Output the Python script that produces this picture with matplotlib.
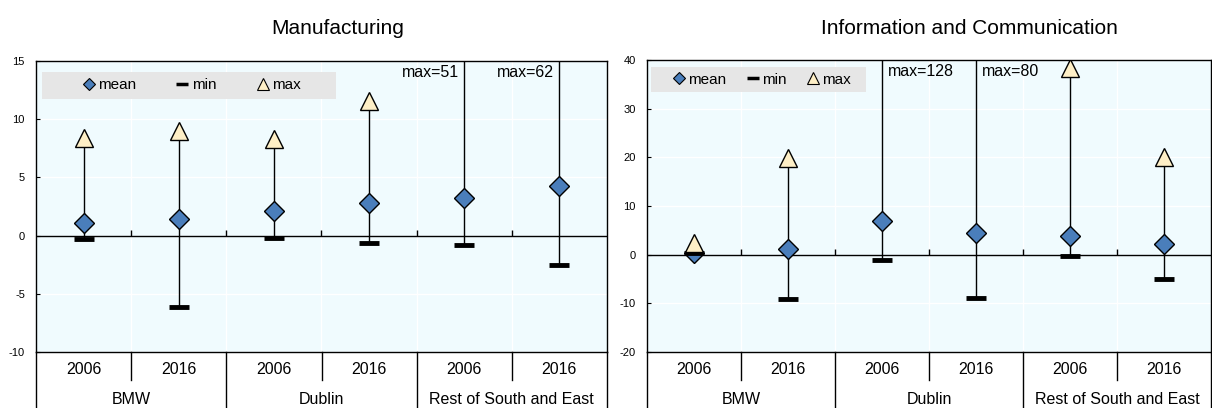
import matplotlib
matplotlib.use("Agg")
import matplotlib.pyplot as plt
from matplotlib.lines import Line2D
from matplotlib.patches import Rectangle
import numpy as np

plt.rcParams['font.family'] = ['Liberation Sans', 'DejaVu Sans']

regions = ["BMW", "Dublin", "Rest of South and East"]
years = ["2006", "2016"]

titles = ["Manufacturing", "Information and Communication"]

manu_mean = [1.1, 1.4, 2.1, 2.8, 3.2, 4.3]
manu_min = [-0.3, -6.1, -0.2, -0.6, -0.8, -2.5]
manu_max = [8.4, 9.0, 8.3, 11.6, 51, 62]

ict_mean = [0.3, 1.1, 7.0, 4.4, 3.9, 2.2]
ict_min = [0.4, -9.1, -1.1, -8.9, -0.3, -5.1]
ict_max = [2.5, 19.8, 128, 80, 38.4, 20.0]

y_limits = [(-10, 15), (-20, 40)]
y_ticks = [[-10, -5, 0, 5, 10, 15], [-20, -10, 0, 10, 20, 30, 40]]

BG = "#F0FBFE"
BLUE = "#4A7EBB"
CREAM = "#FEEFC6"
LEGEND_BG = "#E6E6E6"

fig = plt.figure(figsize=(12.12, 4.08), dpi=100)
W, H = 1212, 408
rects = [(36, 571, 61), (647, 564, 60)]
ax_bottom = 352

panels = [
    (manu_mean, manu_min, manu_max),
    (ict_mean, ict_min, ict_max),
]
label_side = [-1, 1]
# legend box (x0, x1, y0, y1) in axes fractions and legend centre
legend_box = [(0.0105, 0.525, 0.869, 0.962), (0.0071, 0.388, 0.889, 0.977)]
legend_centre = [(0.273, 0.916), (0.204, 0.933)]
legend_colsp = [2.7, 1.4]
title_x = [338, 969]

for p, ((left, width, top), (means, mins, maxs)) in enumerate(zip(rects, panels)):
    ah = ax_bottom - top
    ax = fig.add_axes([left / W, (H - ax_bottom) / H, width / W, ah / H])
    ax.set_facecolor(BG)
    n = len(means)
    x = np.arange(n)
    lo, hi = y_limits[p]
    ax.set_xlim(-0.5, n - 0.5)
    ax.set_ylim(lo, hi)
    ax.set_yticks(y_ticks[p])
    ax.set_yticklabels([str(t) for t in y_ticks[p]])
    ax.tick_params(axis='y', direction='in', length=3, width=0.8, labelsize=8, pad=8)
    ax.set_xticks([])
    bounds = np.arange(n + 1) - 0.5
    # white grid
    for t in y_ticks[p]:
        ax.axhline(t, color='white', lw=1, zorder=0.5)
    for b in bounds[1:-1]:
        ax.axvline(b, color='white', lw=1, zorder=0.5)
    for s in ax.spines.values():
        s.set_linewidth(1)
        s.set_color('black')
    # zero line with category ticks
    ax.axhline(0, color='black', lw=1, zorder=1)
    ax.plot(bounds[1:-1], np.zeros(n - 1), linestyle='none', marker=2, ms=4,
            mew=1, color='black', zorder=1)

    ax.vlines(x, mins, maxs, color='black', lw=1, zorder=2)
    ax.plot(x, means, linestyle='none', marker='D', ms=10, mfc=BLUE, mec='black',
            mew=1, zorder=3)
    ax.plot(x, mins, linestyle='none', marker='_', ms=14, mew=3.5, color='black',
            zorder=4)
    ax.plot(x, maxs, linestyle='none', marker='^', ms=13, mfc=CREAM, mec='black',
            mew=1, zorder=5)

    # values beyond the axis
    for xi, m in zip(x, maxs):
        if m > hi:
            side = label_side[p]
            ax.annotate(f"max={m:g}", xy=(xi, 0.985), xycoords=ax.get_xaxis_transform(),
                        xytext=(4 * side, 0), textcoords='offset points',
                        ha='left' if side > 0 else 'right', va='top', fontsize=11.5)

    # legend on a grey band
    x0, x1, y0, y1 = legend_box[p]
    ax.add_patch(Rectangle((x0, y0), x1 - x0, y1 - y0, transform=ax.transAxes,
                           facecolor=LEGEND_BG, edgecolor='none', zorder=6))
    handles = [
        Line2D([], [], linestyle='none', marker='D', ms=6, mfc=BLUE, mec='black', mew=0.8),
        Line2D([], [], linestyle='none', marker='_', ms=8, mew=2.5, color='black'),
        Line2D([], [], linestyle='none', marker='^', ms=8, mfc=CREAM, mec='black', mew=0.8),
    ]
    leg = ax.legend(handles, ['mean', 'min', 'max'], ncol=3, loc='center',
                    bbox_to_anchor=legend_centre[p], frameon=False,
                    fontsize=11, handlelength=0.7, handletextpad=0.25,
                    columnspacing=legend_colsp[p], borderpad=0, borderaxespad=0)
    leg.set_zorder(7)

    # category table below the axis
    tr = ax.transAxes
    y_year = -(370 - ax_bottom) / ah
    y_ydiv = -(380 - ax_bottom) / ah
    y_reg = -(399 - ax_bottom) / ah
    y_end = -(H - ax_bottom) / ah
    nr = len(regions)
    ny = len(years)
    for i in range(n):
        ax.text((i + 0.5) / n, y_year, years[i % ny], transform=tr,
                ha='center', va='center', fontsize=11.5)
    for i in range(nr):
        ax.text((i + 0.5) / nr, y_reg, regions[i], transform=tr,
                ha='center', va='center', fontsize=11.5)
    for i in range(n + 1):
        frac = i / n
        full = (i % ny == 0)
        ax.plot([frac, frac], [0, y_end if full else y_ydiv], transform=tr,
                color='black', lw=1, clip_on=False)

    fig.text(title_x[p] / W, 1 - 28 / H, titles[p], ha='center', va='center',
             fontsize=15)

fig.savefig("out.png", dpi=100)
